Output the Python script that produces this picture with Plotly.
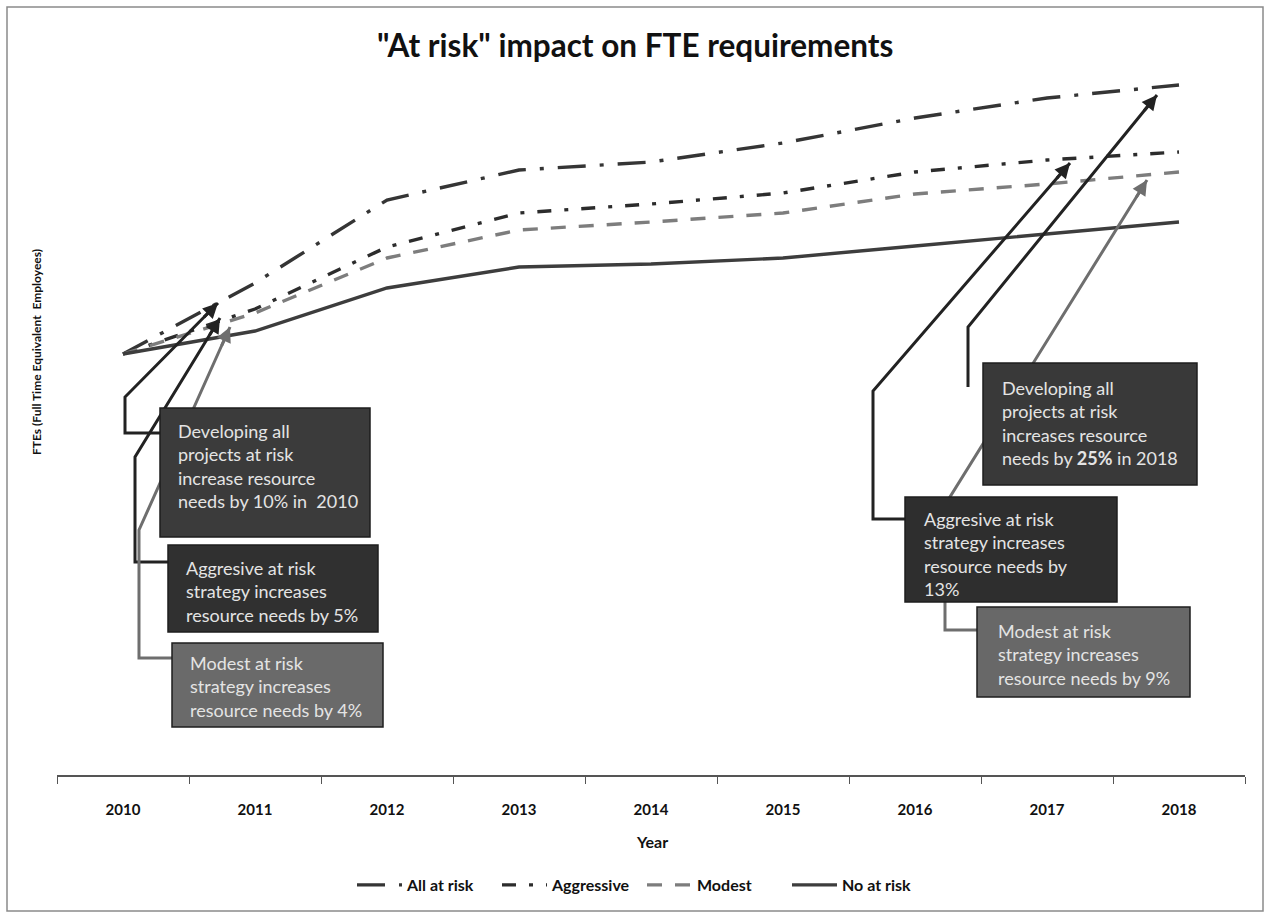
import plotly.graph_objects as go

# ---------------- data ----------------
years = ["2010", "2011", "2012", "2013", "2014", "2015", "2016", "2017", "2018"]
all_at_risk = [421, 492, 575, 605, 613, 632, 657, 677, 690]
aggressive = [421, 466, 528, 562, 571, 582, 603, 615, 623]
modest = [421, 462, 517, 545, 553, 562, 581, 591, 603]
no_at_risk = [421, 444, 487, 508, 511, 517, 529, 541, 553]

series_names = ["All at risk", "Aggressive", "Modest", "No at risk"]

title_text = '"At risk" impact on FTE requirements'
y_title = "FTEs (Full Time Equivalent  Employees)"
x_title = "Year"

# ---------------- layout geometry (pixels) ----------------
W, H = 1268, 916
L, R, T, B = 57, 1245, 55, 775
FONT = "Lato"


def px(x):
    return (x - L) / (R - L)


def py(y):
    return (B - y) / (B - T)


fig = go.Figure()

styles = [
    dict(color="#353535", width=3.4, dash="28px,14px,4px,14px"),
    dict(color="#2c2c2c", width=3.4, dash="14px,13px,4px,13px"),
    dict(color="#7d7d7d", width=3.4, dash="15px,13px"),
    dict(color="#3d3d3d", width=3.4),
]
for name, vals, st in zip(series_names, [all_at_risk, aggressive, modest, no_at_risk], styles):
    fig.add_trace(go.Scatter(x=years, y=vals, mode="lines", name=name, line=st))

shapes = []
annotations = []

# outer border
shapes.append(dict(type="rect", xref="paper", yref="paper",
                   x0=px(7), x1=px(1263), y0=py(911), y1=py(7),
                   line=dict(color="#8a8a8a", width=1.5), fillcolor="rgba(0,0,0,0)", layer="below"))

# connectors: (points list, colour)
connectors = [
    ([(160, 433), (125, 433), (125, 397), (218, 303)], "#222222"),
    ([(168, 562), (135, 562), (135, 457), (220, 318)], "#222222"),
    ([(172, 658), (139, 658), (139, 530), (230, 327)], "#6e6e6e"),
    ([(968, 387), (968, 327), (1157, 95)], "#222222"),
    ([(905, 519), (873, 519), (873, 391), (1070, 163)], "#222222"),
    ([(977, 630), (945, 630), (945, 505), (1147, 180)], "#6e6e6e"),
]
for pts, col in connectors:
    path = "M " + " L ".join(f"{px(x):.5f},{py(y):.5f}" for x, y in pts)
    shapes.append(dict(type="path", xref="paper", yref="paper", path=path,
                       line=dict(color=col, width=3), layer="above"))
    (x1, y1), (x2, y2) = pts[-2], pts[-1]
    dx, dy = x1 - x2, y1 - y2
    n = (dx * dx + dy * dy) ** 0.5
    annotations.append(dict(xref="paper", yref="paper", x=px(x2), y=py(y2),
                            ax=dx / n * 22, ay=dy / n * 22, text="", showarrow=True,
                            arrowhead=2, arrowsize=1, arrowwidth=3, arrowcolor=col, standoff=0))

# boxes: (x0, y0, x1, y1, fill, text, text_x, text_y)
boxes = [
    (160, 408, 370, 537, "#3b3b3b",
     "Developing all<br>projects at risk<br>increase resource<br>needs by 10% in  2010", 176, 418),
    (168, 545, 378, 632, "#303030",
     "Aggresive at risk<br>strategy increases<br>resource needs by 5%", 184, 555),
    (172, 643, 383, 727, "#6a6a6a",
     "Modest at risk<br>strategy increases<br>resource needs by 4%", 188, 650),
    (983, 363, 1197, 485, "#393939",
     "Developing all<br>projects at risk<br>increases resource<br>needs by <b>25%</b> in 2018", 1000, 375),
    (905, 497, 1117, 602, "#2e2e2e",
     "Aggresive at risk<br>strategy increases<br>resource needs by<br>13%", 922, 506),
    (977, 607, 1190, 697, "#686868",
     "Modest at risk<br>strategy increases<br>resource needs by 9%", 996, 618),
]
for x0, y0, x1, y1, fill, txt, tx, ty in boxes:
    shapes.append(dict(type="rect", xref="paper", yref="paper",
                       x0=px(x0), x1=px(x1), y0=py(y1), y1=py(y0),
                       fillcolor=fill, line=dict(color="#1e1e1e", width=1.5), layer="above"))
    annotations.append(dict(xref="paper", yref="paper", x=px(tx), y=py(ty),
                            xanchor="left", yanchor="top", align="left", showarrow=False,
                            text=txt, font=dict(family=FONT, size=18, color="#e4e4e4")))

# title, axis titles
annotations.append(dict(xref="paper", yref="paper", x=px(635), y=py(45), xanchor="center",
                        yanchor="middle", showarrow=False, text="<b>" + title_text + "</b>",
                        font=dict(family=FONT, size=31.5, color="#111111")))
annotations.append(dict(xref="paper", yref="paper", x=px(652), y=py(842), xanchor="center",
                        yanchor="middle", showarrow=False, text="<b>" + x_title + "</b>",
                        font=dict(family=FONT, size=16, color="#111111")))
annotations.append(dict(xref="paper", yref="paper", x=px(36), y=py(352), xanchor="center",
                        yanchor="middle", showarrow=False, textangle=-90,
                        text="<b>" + y_title + "</b>",
                        font=dict(family=FONT, size=12, color="#111111")))

fig.update_layout(
    width=W, height=H,
    margin=dict(l=L, r=W - R, t=T, b=H - B, autoexpand=False),
    paper_bgcolor="white", plot_bgcolor="white",
    font=dict(family=FONT, color="#111111"),
    showlegend=True,
    legend=dict(orientation="h", x=px(352), xanchor="left", y=py(885), yanchor="middle",
                font=dict(family=FONT, size=16, color="#111111", weight="bold"),
                itemwidth=45, entrywidth=85, entrywidthmode="pixels",
                bgcolor="rgba(0,0,0,0)"),
    shapes=shapes,
    annotations=annotations,
)
fig.update_xaxes(type="category", range=[-0.5, 8.5], showgrid=False, zeroline=False,
                 showline=True, linecolor="#555555", linewidth=1.5,
                 ticks="outside", ticklen=7, tickcolor="#555555", tickwidth=1.2,
                 tickson="boundaries", ticklabelstandoff=20,
                 tickfont=dict(family=FONT, size=15, color="#111111", weight="bold"))
fig.update_yaxes(range=[0, 720], visible=False, showgrid=False, zeroline=False)

fig.write_html("out.html")
